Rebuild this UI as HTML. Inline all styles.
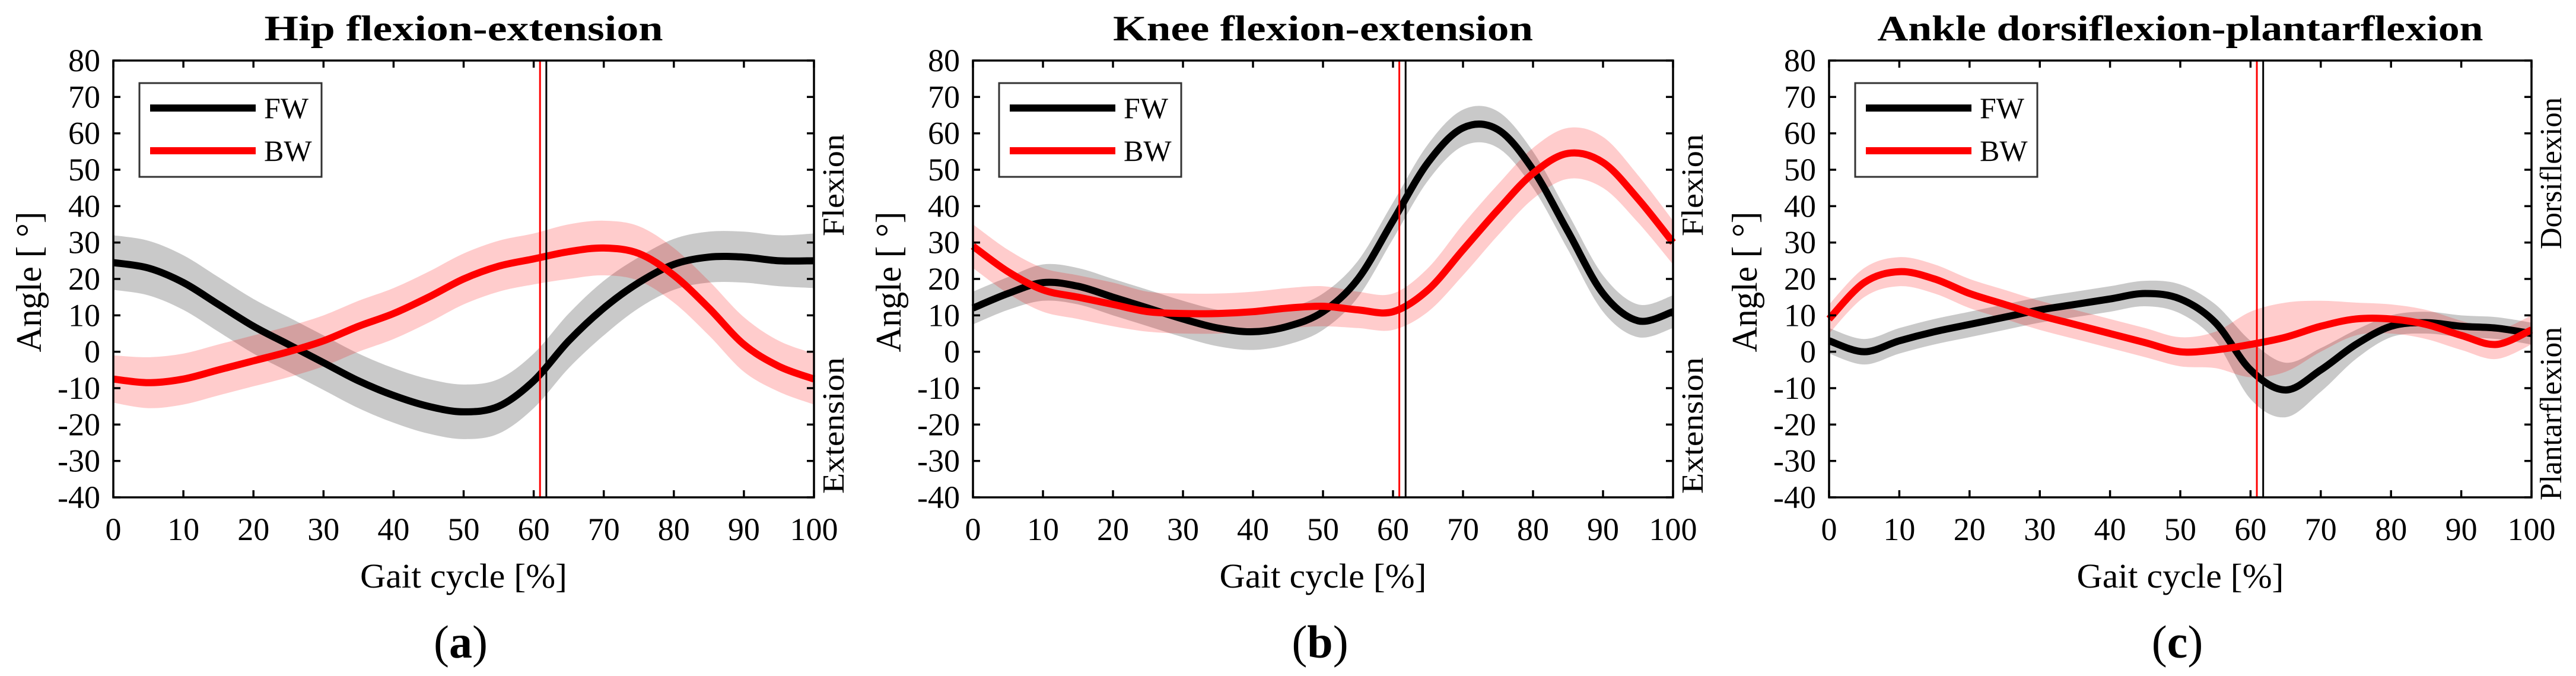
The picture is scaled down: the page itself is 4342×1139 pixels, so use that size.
<!DOCTYPE html>
<html><head><meta charset="utf-8"><style>
html,body{margin:0;padding:0;background:#fff;}
svg{display:block;font-family:"Liberation Serif",serif;}
</style></head><body>
<svg id="fig" width="4342" height="1139" viewBox="0 0 4342 1139" xmlns="http://www.w3.org/2000/svg"></svg>
<script>
// ---- data ----
const gaitX = [0,5,10,15,20,25,30,35,40,45,50,55,60,65,70,75,80,85,90,95,100];
const yTicks = [80,70,60,50,40,30,20,10,0,-10,-20,-30,-40];
const xTicks = [0,10,20,30,40,50,60,70,80,90,100];
const hipFW = [24.5,23,19,13,7,2,-3,-8,-12,-15,-16.5,-15,-8,3,12,19,24,26,26,25,25];
const hipFWsd = [7.5,7.5,7.5,7.5,7.5,7.5,7.5,7.5,7.5,7.5,7.5,7.5,7.5,7.5,7.5,7,7,7,7,7,7.5];
const hipBW = [-7.5,-8.5,-7.5,-5,-2.5,0,3,7,10.5,15,20,23.5,25.5,27.5,28.5,27,21,12,2,-4,-7.5];
const hipBWsd = [6.5,7,7,7,7,7,7,7,7,7,7,7,7,7.5,7.5,7.5,7.5,7.5,7.5,7,7];
const kneeFW = [12,16,19,18,15,12,9,6.5,5.5,7,11,20,36,52,61.5,61,50,33,16,8.5,11];
const kneeFWsd = [4.5,4.5,5,5,5,5,5,5,5,5,5,5,5,5,5,5,5,5,5,4.5,4.5];
const kneeBW = [29,22,17,15,13,11,10.5,10.5,11,12,12.5,11.5,11,17,28,39,49,54.5,52,42,30];
const kneeBWsd = [6,6,6,6,6,5.5,5.5,5.5,5.5,5.5,5.5,5,5,6,7,7,7,7,7,6.5,6];
const ankFW = [3,0,3,5.5,7.5,9.5,11.5,13,14.5,16,14.5,8,-5,-10.5,-5,2,7,8,7,6.5,5];
const ankFWsd = [3.5,3.5,3.5,3.5,3.5,3.5,3.5,3.5,3.5,3.5,4,5,8,7.5,6,4,3,3,3,3,3];
const ankBW = [9,19,22,20,16,13,10,7.5,5,2.5,0,0.5,2,4,7,9,9,7.5,4.5,2,6];
const ankBWsd = [4,4,4,4,4,4,4,4,4,4,4,5,9,9.5,7,4.5,4,4,4,4,4];
const fwToe = [61.8,61.8,61.8];
const bwToe = [60.9,60.9,60.9];
const titles = ["Hip flexion-extension","Knee flexion-extension","Ankle dorsiflexion-plantarflexion"];
const letters = ["a","b","c"];
const upperLabels = ["Flexion","Flexion","Dorsiflexion"];
const lowerLabels = ["Extension","Extension","Plantarflexion"];

const NS="http://www.w3.org/2000/svg";
const svg=document.getElementById('fig');
const layouts=[{L:191,R:1372,tw:672},{L:1640,R:2820,tw:708},{L:3083,R:4267,tw:1021}];
const TOP=102,BOT=838;
const series=[[hipFW,hipFWsd,hipBW,hipBWsd],[kneeFW,kneeFWsd,kneeBW,kneeBWsd],[ankFW,ankFWsd,ankBW,ankBWsd]];
function mk(tag,attrs,parent){const e=document.createElementNS(NS,tag);for(const k in attrs)e.setAttribute(k,attrs[k]);(parent||svg).appendChild(e);return e;}
function smooth(pts){let d='M'+pts[0][0]+','+pts[0][1];for(let i=0;i<pts.length-1;i++){const p0=pts[Math.max(0,i-1)],p1=pts[i],p2=pts[i+1],p3=pts[Math.min(pts.length-1,i+2)];const c1x=p1[0]+(p2[0]-p0[0])/6,c1y=p1[1]+(p2[1]-p0[1])/6,c2x=p2[0]-(p3[0]-p1[0])/6,c2y=p2[1]-(p3[1]-p1[1])/6;d+=' C'+c1x+','+c1y+' '+c2x+','+c2y+' '+p2[0]+','+p2[1];}return d;}

layouts.forEach((lay,pi)=>{
  const g=mk('g',{});
  
  
  const xs=v=>lay.L+(v/100)*(lay.R-lay.L);
  const ys=v=>TOP+(80-v)/120*(BOT-TOP);
  const cx=(lay.L+lay.R)/2;
  const t=mk('text',{x:cx,y:68,'text-anchor':'middle','font-size':60,'font-weight':'bold',textLength:lay.tw,lengthAdjust:'spacingAndGlyphs'},g);
  t.textContent=titles[pi];
  
  
  const [fw,fwsd,bw,bwsd]=series[pi];
  function band(m,sd,fill,name){
    const up=gaitX.map((x,i)=>[xs(x),ys(m[i]+sd[i])]);
    const lo=gaitX.map((x,i)=>[xs(x),ys(m[i]-sd[i])]).reverse();
    const p=mk('path',{d:smooth(up)+' '+smooth(lo).replace(/^M/,'L')+' Z',fill:fill,stroke:'none'},g);
    
    
  }
  band(fw,fwsd,'rgba(0,0,0,0.21)','fw-sd-band');
  band(bw,bwsd,'rgba(255,0,0,0.2)','bw-sd-band');
  const lf=mk('path',{d:smooth(gaitX.map((x,i)=>[xs(x),ys(fw[i])])),fill:'none',stroke:'#000','stroke-width':12},g);
  
  
  const lb=mk('path',{d:smooth(gaitX.map((x,i)=>[xs(x),ys(bw[i])])),fill:'none',stroke:'#f00','stroke-width':12},g);
  
  
  const vr=mk('line',{x1:xs(bwToe[pi]),x2:xs(bwToe[pi]),y1:TOP,y2:BOT,stroke:'#f00','stroke-width':3},g);
  
  
  const vb=mk('line',{x1:xs(fwToe[pi]),x2:xs(fwToe[pi]),y1:TOP,y2:BOT,stroke:'#000','stroke-width':3},g);
  
  
  const box=mk('rect',{x:lay.L,y:TOP,width:lay.R-lay.L,height:BOT-TOP,fill:'none',stroke:'#000','stroke-width':3.5},g);
  
  
  yTicks.forEach(v=>{
    mk('line',{x1:lay.L,x2:lay.L+12,y1:ys(v),y2:ys(v),stroke:'#000','stroke-width':3.5},g);
    mk('line',{x1:lay.R,x2:lay.R-12,y1:ys(v),y2:ys(v),stroke:'#000','stroke-width':3.5},g);
    const tl=mk('text',{x:lay.L-22,y:ys(v)+18,'text-anchor':'end','font-size':54},g);
    tl.textContent=v;
    
    
  });
  xTicks.forEach(v=>{
    mk('line',{x1:xs(v),x2:xs(v),y1:BOT,y2:BOT-12,stroke:'#000','stroke-width':3.5},g);
    mk('line',{x1:xs(v),x2:xs(v),y1:TOP,y2:TOP+12,stroke:'#000','stroke-width':3.5},g);
    const tl=mk('text',{x:xs(v),y:910,'text-anchor':'middle','font-size':54},g);
    tl.textContent=v;
    
    
  });
  const xl=mk('text',{x:cx,y:990,'text-anchor':'middle','font-size':58,textLength:349,lengthAdjust:'spacingAndGlyphs'},g);
  xl.textContent='Gait cycle [%]';
  
  
  const yl=mk('text',{x:0,y:0,'text-anchor':'middle','font-size':60,textLength:237,lengthAdjust:'spacingAndGlyphs',transform:'translate('+(lay.L-122)+','+((TOP+BOT)/2+5)+') rotate(-90)'},g);
  yl.textContent='Angle [ °]';
  
  
  const uLen=[172,172,256][pi], lLen=[230,230,292][pi];
  const ul=mk('text',{x:0,y:0,'text-anchor':'middle','font-size':52,textLength:uLen,lengthAdjust:'spacingAndGlyphs',transform:'translate('+(lay.R+50)+','+(pi==2?292:312)+') rotate(-90)'},g);
  ul.textContent=upperLabels[pi];
  
  
  const ll=mk('text',{x:0,y:0,'text-anchor':'middle','font-size':52,textLength:lLen,lengthAdjust:'spacingAndGlyphs',transform:'translate('+(lay.R+50)+','+(pi==2?697:717)+') rotate(-90)'},g);
  ll.textContent=lowerLabels[pi];
  
  
  const lg=mk('g',{},g);
  
  
  mk('rect',{x:lay.L+44,y:140,width:307,height:158,fill:'#fff',stroke:'#333','stroke-width':3},lg);
  mk('line',{x1:lay.L+62,x2:lay.L+240,y1:182,y2:182,stroke:'#000','stroke-width':12},lg);
  mk('line',{x1:lay.L+62,x2:lay.L+240,y1:254,y2:254,stroke:'#f00','stroke-width':12},lg);
  const f1=mk('text',{x:lay.L+254,y:199,'font-size':50},lg);
  f1.textContent='FW';
  
  
  const f2=mk('text',{x:lay.L+254,y:271,'font-size':50},lg);
  f2.textContent='BW';
  
  
  const cap=mk('text',{x:cx-5,y:1108,'text-anchor':'middle','font-size':78},g);
  cap.innerHTML='(<tspan font-weight="bold">'+letters[pi]+'</tspan>)';
  
  
});
</script>
</body></html>
